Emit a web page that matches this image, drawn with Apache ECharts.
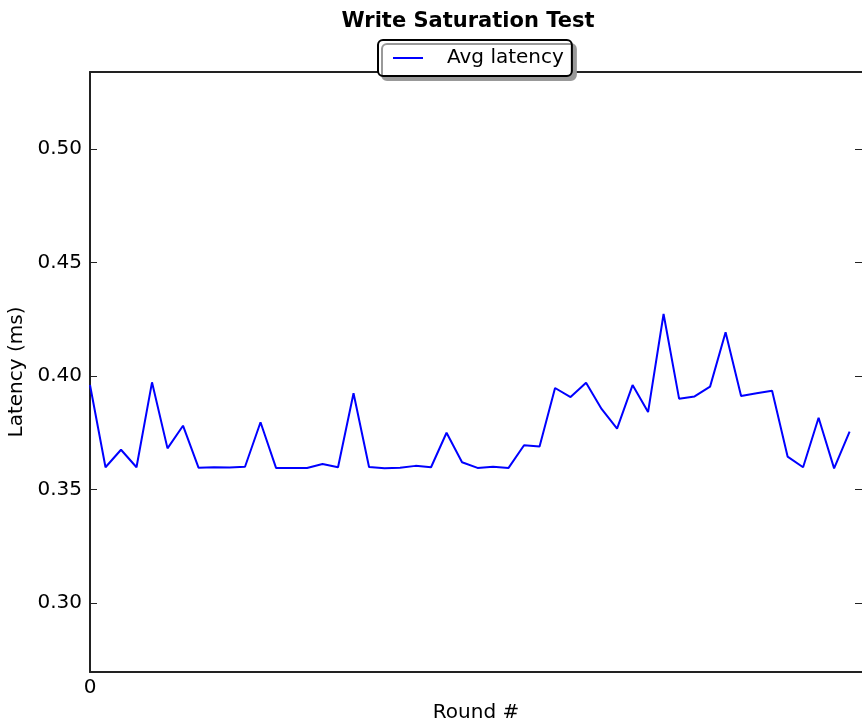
<!DOCTYPE html>
<html>
<head>
<meta charset="utf-8">
<script src="https://cdn.jsdelivr.net/npm/echarts@6/dist/echarts.min.js"></script>
<style>html,body{margin:0;padding:0;background:#fff;}#c{width:862px;height:724px;}</style>
</head>
<body>
<div id="c"></div>
<script>
const rounds = Array.from({length: 50}, (_, i) => i);
const avgLatency = [
  0.3960, 0.3598, 0.3675, 0.3598, 0.3972, 0.3681, 0.3781, 0.3596, 0.3598, 0.3597,
  0.3600, 0.3796, 0.3595, 0.3595, 0.3595, 0.3612, 0.3598, 0.3924, 0.3599, 0.3593,
  0.3596, 0.3604, 0.3598, 0.3750, 0.3620, 0.3595, 0.3600, 0.3595, 0.3695, 0.3689,
  0.3947, 0.3907, 0.3970, 0.3855, 0.3768, 0.3960, 0.3841, 0.4273, 0.3900, 0.3910,
  0.3953, 0.4193, 0.3912, 0.3924, 0.3935, 0.3645, 0.3598, 0.3816, 0.3593, 0.3755
];
const yTicks = [0.30, 0.35, 0.40, 0.45, 0.50];
const xTicks = [0];

const font = 'DejaVu Sans';
const Y_MIN = 0.2696, Y_MAX = 0.5339, X_MAX = 49.8;
const GRID_LEFT = 90, W = 862;
// inward tick length (7px) expressed in x-axis units
const tickLen = 7 * X_MAX / (W - GRID_LEFT);
const tickMarks = [];
yTicks.forEach(v => {
  tickMarks.push([{coord: [0, v]}, {coord: [tickLen, v]}]);
  tickMarks.push([{coord: [X_MAX - tickLen, v]}, {coord: [X_MAX, v]}]);
});

const chart = echarts.init(document.getElementById('c'), null, {renderer: 'canvas'});
const axisLine = {show: true, lineStyle: {color: '#222', width: 2}};
chart.setOption({
  animation: false,
  backgroundColor: '#fff',
  title: {
    text: 'Write Saturation Test',
    left: 463, textAlign: 'center', top: 6,
    textStyle: {fontFamily: font, fontSize: 21, fontWeight: 'bold', color: '#000'}
  },
  legend: {
    data: ['Avg latency'],
    left: 378, top: 40,
    orient: 'horizontal',
    icon: 'rect',
    padding: [8, 8, 8, 15],
    itemWidth: 30, itemHeight: 2,
    backgroundColor: '#fff',
    borderColor: '#000', borderWidth: 2, borderRadius: 5,
    shadowColor: '#999', shadowBlur: 0, shadowOffsetX: 4, shadowOffsetY: 4,
    textStyle: {fontFamily: font, fontSize: 20, color: '#000', padding: [0, 0, 0, 19]}
  },
  grid: {left: GRID_LEFT, right: 0, top: 72, bottom: 52, containLabel: false, outerBoundsMode: 'none'},
  xAxis: [{
    type: 'value', min: 0, max: X_MAX, position: 'bottom',
    name: 'Round #', nameLocation: 'middle', nameGap: 31,
    nameTextStyle: {fontFamily: font, fontSize: 20, color: '#000'},
    axisLine: axisLine,
    axisTick: {show: false},
    splitLine: {show: false},
    axisLabel: {customValues: xTicks, fontFamily: font, fontSize: 20, color: '#000', margin: 6}
  }, {
    type: 'value', min: 0, max: X_MAX, position: 'top',
    axisLine: axisLine, axisTick: {show: false}, axisLabel: {show: false}, splitLine: {show: false}
  }],
  yAxis: [{
    type: 'value', min: Y_MIN, max: Y_MAX, position: 'left',
    name: 'Latency (ms)', nameLocation: 'middle', nameGap: 60, nameRotate: 90,
    nameTextStyle: {fontFamily: font, fontSize: 20, color: '#000'},
    axisLine: axisLine,
    axisTick: {show: false},
    splitLine: {show: false},
    axisLabel: {customValues: yTicks, fontFamily: font, fontSize: 20, color: '#000', margin: 8,
      formatter: v => v.toFixed(2)}
  }],
  series: [{
    name: 'Avg latency',
    type: 'line',
    data: rounds.map((r, i) => [r, avgLatency[i]]),
    symbol: 'none', showSymbol: false,
    lineStyle: {color: '#0000ff', width: 2},
    itemStyle: {color: '#0000ff'},
    markLine: {
      silent: true, animation: false,
      symbol: ['none', 'none'],
      label: {show: false},
      emphasis: {disabled: true},
      lineStyle: {color: '#222', width: 1, type: 'solid'},
      data: tickMarks
    }
  }]
});
</script>
</body>
</html>
